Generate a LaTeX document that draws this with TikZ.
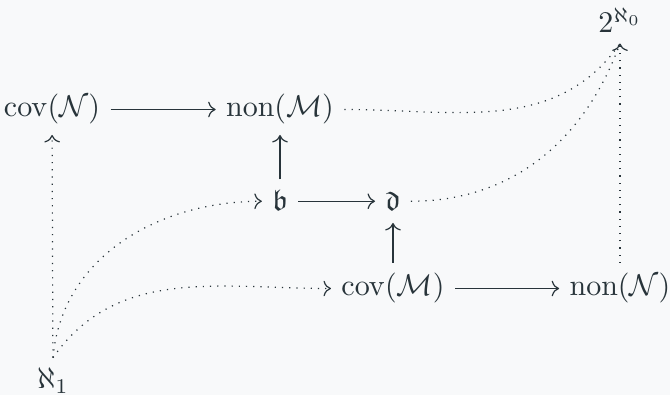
\documentclass[tikz,border=0pt]{standalone}
\usepackage{amssymb}
\usetikzlibrary{arrows.meta}
\definecolor{bg}{RGB}{248,249,250}
\definecolor{fg}{RGB}{40,52,58}
\begin{document}
\begin{tikzpicture}[x=0.3333pt,y=-0.3333pt,
  lbl/.style={text=fg, inner sep=3.3pt, anchor=base},
  frak/.style={lbl, text height=7pt, text depth=0.5pt},
  ar/.style={draw=fg, line width=0.4pt, -{Computer Modern Rightarrow}},
  dar/.style={ar, dotted},
  dline/.style={draw=fg, line width=0.4pt, dotted}]
\fill[bg] (0,0) rectangle (670,395);
\useasboundingbox (0,0) rectangle (670,395);
\node[lbl] (covN) at (52,117) {$\mathrm{cov}(\mathcal{N})$};
\node[lbl] (nonM) at (280,117) {$\mathrm{non}(\mathcal{M})$};
\node[lbl] (two) at (620,33) {$2^{\aleph_0}$};
\node[frak] (b) at (280,211) {$\mathfrak{b}$};
\node[frak] (d) at (393,211) {$\mathfrak{d}$};
\node[lbl] (covM) at (393,296) {$\mathrm{cov}(\mathcal{M})$};
\node[lbl] (nonN) at (620,296) {$\mathrm{non}(\mathcal{N})$};
\node[lbl] (a1) at (53,389) {$\aleph_1$};
\draw[ar] (covN) -- (nonM);
\draw[ar] (b) -- (nonM);
\draw[ar] (b) -- (d);
\draw[ar] (covM) -- (d);
\draw[ar] (covM) -- (nonN);
\draw[dar] (a1) -- (covN);
\draw[dar] (nonN) -- (two);
\draw[dline] (nonM.east) to[out=0,in=-125] (two.south);
\draw[dline] (d.east) to[out=0,in=-110] (two.south);
\draw[dar] (a1.north) to[out=85,in=180] (b.west);
\draw[dar] (a1.north) to[out=55,in=180] (covM.west);
\end{tikzpicture}
\end{document}
